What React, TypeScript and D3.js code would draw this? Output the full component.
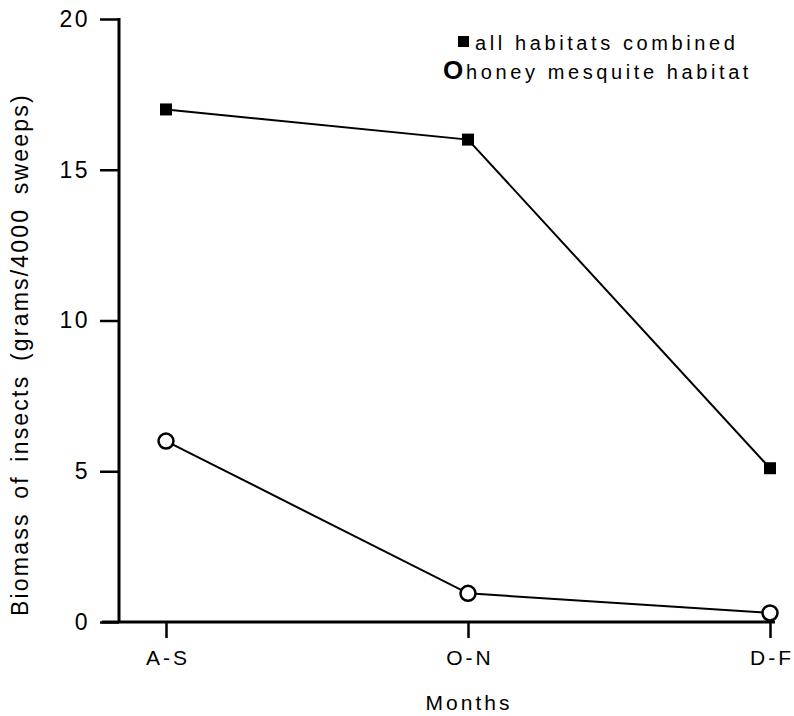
import { useEffect, useRef } from 'react';
import * as d3 from 'd3';

const months = ['A-S', 'O-N', 'D-F'];
const allHabitats = [17, 16, 5.1];
const honeyMesquite = [6.0, 0.95, 0.3];
const yTicks = [0, 5, 10, 15, 20];

const FONT = '"Liberation Sans", Arial, sans-serif';

export default function App() {
  const svgRef = useRef<SVGSVGElement | null>(null);

  useEffect(() => {
    const width = 794;
    const height = 716;
    const svg = d3.select(svgRef.current);
    svg.selectAll('*').remove();

    const x = d3.scalePoint<string>().domain(months).range([166, 770]);
    const y = d3.scaleLinear().domain([0, 20]).range([622, 19]);

    svg.attr('viewBox', `0 0 ${width} ${height}`);

    const yAxis = svg.append('g')
      .attr('transform', 'translate(119,0)')
      .call(d3.axisLeft(y).tickValues(yTicks).tickSize(19).tickPadding(10).tickSizeOuter(0));
    yAxis.select('.domain').attr('stroke-width', 3).attr('d', `M0,${y(20) - 1}V${y(0) + 1}`);
    yAxis.selectAll('.tick line').attr('stroke-width', 2.5);
    yAxis.selectAll('text')
      .style('font-family', FONT)
      .style('font-size', '23px')
      .style('letter-spacing', '2.5px')
      .attr('fill', '#000');

    const xAxis = svg.append('g')
      .attr('transform', `translate(0,${y(0)})`)
      .call(d3.axisBottom(x).tickSize(16).tickPadding(12).tickSizeOuter(0));
    xAxis.select('.domain').attr('stroke-width', 3).attr('d', 'M102,0H775');
    xAxis.selectAll('.tick line').attr('stroke-width', 2.5);
    xAxis.selectAll('text')
      .style('font-family', FONT)
      .style('font-size', '21px')
      .style('letter-spacing', '3px')
      .attr('dx', 1.5)
      .attr('fill', '#000');

    const line = d3.line<number>()
      .x((_, i) => x(months[i]) as number)
      .y((d) => y(d));

    [allHabitats, honeyMesquite].forEach((series) => {
      svg.append('path')
        .datum(series)
        .attr('d', line)
        .attr('fill', 'none')
        .attr('stroke', '#000')
        .attr('stroke-width', 2);
    });

    svg.selectAll('.sq')
      .data(allHabitats)
      .join('rect')
      .attr('class', 'sq')
      .attr('x', (_, i) => (x(months[i]) as number) - 6)
      .attr('y', (d) => y(d) - 6)
      .attr('width', 12)
      .attr('height', 12)
      .attr('fill', '#000');

    svg.selectAll('.circ')
      .data(honeyMesquite)
      .join('circle')
      .attr('class', 'circ')
      .attr('cx', (_, i) => x(months[i]) as number)
      .attr('cy', (d) => y(d))
      .attr('r', 7.5)
      .attr('fill', '#fff')
      .attr('stroke', '#000')
      .attr('stroke-width', 2.5);

    // legend
    const lg = svg.append('g')
      .style('font-family', FONT)
      .style('font-size', '20px')
      .style('letter-spacing', '3.6px');
    lg.append('rect').attr('x', 458).attr('y', 36).attr('width', 11).attr('height', 11).attr('fill', '#000');
    lg.append('text').attr('x', 475).attr('y', 50).text('all habitats combined');
    lg.append('text').attr('x', 443).attr('y', 79)
      .style('font-size', '26px').style('letter-spacing', '0px').style('font-weight', 'bold')
      .text('O');
    lg.append('text').attr('x', 466).attr('y', 79).text('honey mesquite habitat');

    svg.append('text')
      .attr('transform', 'translate(28,616) rotate(-90)')
      .attr('text-anchor', 'start')
      .style('font-family', FONT)
      .style('font-size', '23px')
      .style('letter-spacing', '2.2px')
      .style('word-spacing', '5px')
      .text('Biomass of insects (grams/4000 sweeps)');

    svg.append('text')
      .attr('x', 469)
      .attr('y', 710)
      .attr('text-anchor', 'middle')
      .style('font-family', FONT)
      .style('font-size', '21px')
      .style('letter-spacing', '3px')
      .text('Months');
  }, []);

  return (
    <svg
      ref={svgRef}
      width={794}
      height={716}
      style={{ position: 'absolute', left: 0, top: 0, background: '#fff' }}
    />
  );
}
